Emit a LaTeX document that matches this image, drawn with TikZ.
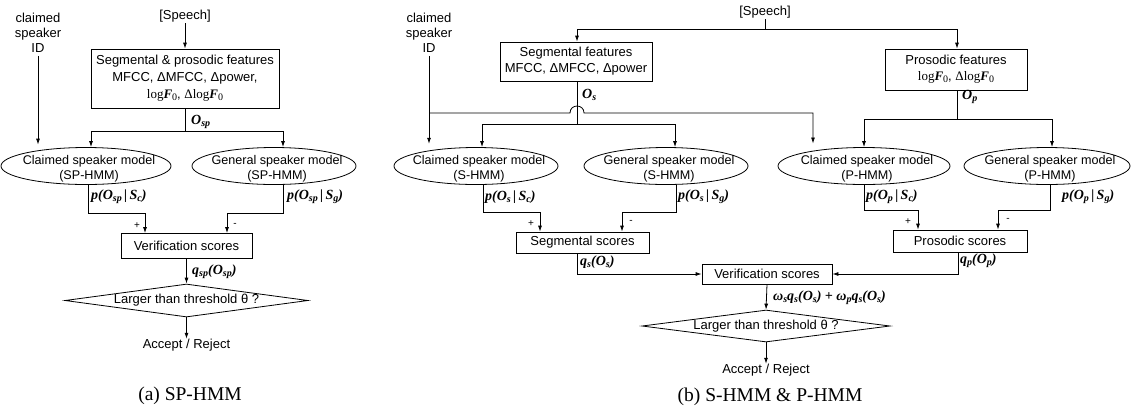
\documentclass[tikz,border=0pt]{standalone}
\usepackage{fontspec}
\setmainfont{Liberation Sans}
\newfontfamily\tms{Liberation Serif}
\usetikzlibrary{shapes.geometric,arrows.meta}
\newcommand{\sbs}[1]{\raisebox{-0.3ex}{\fontsize{10}{10}\selectfont #1}}
\newcommand{\lgF}{{\tms log\textbf{\textit{F}}\sbs{0}}}
\tikzset{
  every node/.style={font=\fontsize{13}{15}\selectfont, inner sep=0pt},
  ln/.style={line width=0.8pt},
  arr/.style={line width=0.8pt, -{Latex[length=6pt,width=4pt]}},
  box/.style={draw, line width=0.8pt, rectangle, align=center},
  ell/.style={draw, line width=0.8pt, ellipse, minimum height=37pt},
  dia/.style={draw, line width=0.8pt, diamond},
  lab/.style={font=\fontsize{14}{15}\selectfont\tms\bfseries\itshape, anchor=west},
  sgn/.style={font=\fontsize{10}{10}\selectfont},
  captxt/.style={font=\fontsize{19.5}{22}\selectfont\tms},
  txt/.style={align=center},
}
\newcommand{\ellnode}[5]{\node[ell, minimum width=#4pt, label={[align=center, font=\fontsize{12.6}{15}\selectfont, xshift=3pt, yshift=-2.5pt]center:#5}] (#1) at (#2,#3) {};}
\begin{document}
\begin{tikzpicture}[x=1pt, y=-1pt]
\useasboundingbox (0,0) rectangle (1137,416);
% ---------------- (a) ----------------
\node[txt] (idA) at (38,33) {claimed\\speaker\\ID};
\node (spA) at (185,16) {[Speech]};
\node[box, minimum width=188pt, minimum height=59pt, font=\fontsize{13}{17}\selectfont] (featA) at (185,78.5)
  {Segmental \& prosodic features\\MFCC, ΔMFCC, Δpower,\\\lgF, {\tms Δ}\lgF};
\coordinate (splA) at (185,131);
\ellnode{cA}{86}{166}{170}{Claimed speaker model\\(SP-HMM)}
\ellnode{gA}{274}{166}{164}{General speaker model\\(SP-HMM)}
\node[box, minimum width=131pt, minimum height=25pt] (vA) at (186.5,246) {Verification scores};
\node[dia, minimum width=243pt, minimum height=33pt, label={center:Larger than threshold θ ?}] (dA) at (186.5,300.5) {};
\node (arA) at (186.5,345) {Accept / Reject};
\node[captxt] (capA) at (190,396) {(a) SP-HMM};

\draw[arr, shorten <=3pt, shorten >=2.5pt] (idA.south) -- (idA.south |- cA.north);
\draw[arr, shorten <=1pt] (spA.south) -- (featA.north);
\draw[ln] (featA.south) -- (splA);
\draw[arr] (splA) -| ([xshift=5pt]cA.north);
\draw[arr] (splA) -| ([xshift=9pt]gA.north);
\node[lab] (oA) at (191,122) {O\sbs{sp}};
\node[lab] (pcA) at (91,197) {p(O\sbs{sp}\,|\,S\sbs{c})};
\node[lab] (pgA) at (287,197) {p(O\sbs{sp}\,|\,S\sbs{g})};
\draw[arr] ([xshift=2pt]cA.south) -- ++(0,28.5) -| ([xshift=-41.5pt]vA.north);
\draw[arr] ([xshift=9pt]gA.south) -- ++(0,28.5) -| ([xshift=40.5pt]vA.north);
\node[sgn] (plA) at (137,226) {+};
\node[sgn] (miA) at (235,225) {-};
\draw[arr] (vA.south) -- (dA.north);
\node[lab] (qA) at (192,272) {q\sbs{sp}(O\sbs{sp})};
\draw[arr] (dA.south) -- (arA.north);
% ---------------- (b) ----------------
\node[txt] (idB) at (429,33) {claimed\\speaker\\ID};
\node (spB) at (765,12) {[Speech]};
\coordinate (spJ) at (765,29);
\node[box, minimum width=152pt, minimum height=39pt, font=\fontsize{13}{16}\selectfont] (segB) at (576,61.5)
  {Segmental features\\MFCC, ΔMFCC, Δpower};
\node[box, minimum width=142pt, minimum height=41pt, font=\fontsize{13}{16}\selectfont] (proB) at (956,69.5)
  {Prosodic features\\\lgF, {\tms Δ}\lgF};
\coordinate (splS) at (577,124);
\coordinate (splP) at (957,119);
\coordinate (idJ) at (429,113);
\ellnode{cS}{476}{166}{164}{Claimed speaker model\\(S-HMM)}
\ellnode{gS}{666}{166}{164}{General speaker model\\(S-HMM)}
\ellnode{cP}{864}{166}{172}{Claimed speaker model\\(P-HMM)}
\ellnode{gP}{1047}{166}{166}{General speaker model\\(P-HMM)}
\node[box, minimum width=133pt, minimum height=21pt] (sSc) at (582.5,242.5) {Segmental scores};
\node[box, minimum width=134pt, minimum height=22pt] (pSc) at (960,241) {Prosodic scores};
\node[box, minimum width=130pt, minimum height=20pt] (vB) at (767,274) {Verification scores};
\node[dia, minimum width=248pt, minimum height=32pt, label={center:Larger than threshold θ ?}] (dB) at (766,326) {};
\node (arB) at (766,370) {Accept / Reject};
\node[captxt] (capB) at (770,397) {(b) S-HMM \& P-HMM};

\draw[ln, shorten <=1pt] (spB.south) -- (spJ);
\draw[arr] (spJ) -| ([xshift=1pt]segB.north);
\draw[arr] (spJ) -| ([xshift=1pt]proB.north);
\draw[ln] ([xshift=1pt]segB.south) -- (splS);
\draw[ln] ([xshift=1pt]proB.south) -- (splP);
\draw[arr] (splS) -| ([xshift=6pt]cS.north);
\draw[arr] (splS) -| ([xshift=9pt]gS.north);
\draw[arr] (splP) -| (cP.north);
\draw[arr] (splP) -| ([xshift=5pt]gP.north);
\draw[ln, shorten <=3pt] (idB.south) -- (idJ);
\draw[arr, shorten >=3.3pt] (idJ) -- (idJ |- cS.north);
\draw[arr, shorten >=3.6pt] (idJ) -- (570,113) .. controls (570,103.7) and (584,103.7) .. (584,113) -| ([xshift=-51pt]cP.north);
\node[lab] (oS) at (582,95) {O\sbs{s}};
\node[lab] (oP) at (962,97) {O\sbs{p}};
\node[lab] (pcS) at (485,197) {p(O\sbs{s}\,|\,S\sbs{c})};
\node[lab] (pgS) at (678,197) {p(O\sbs{s}\,|\,S\sbs{g})};
\node[lab] (pcP) at (866,197) {p(O\sbs{p}\,|\,S\sbs{c})};
\node[lab] (pgP) at (1062,197) {p(O\sbs{p}\,|\,S\sbs{g})};
\draw[arr] ([xshift=7pt]cS.south) -- ++(0,27.5) -| ([xshift=-42.5pt]sSc.north);
\draw[arr] ([xshift=10pt]gS.south) -- ++(0,27.5) -| ([xshift=39.5pt]sSc.north);
\draw[arr] (cP.south) -- ++(0,25.5) -| ([xshift=-42pt]pSc.north);
\draw[arr] ([xshift=3pt]gP.south) -- ++(0,25.5) -| ([xshift=38pt]pSc.north);
\node[sgn] (plS) at (531,224) {+};
\node[sgn] (miS) at (631,222) {-};
\node[sgn] (plP) at (908,222) {+};
\node[sgn] (miP) at (1008,220) {-};
\draw[arr] ([xshift=-5.5pt]sSc.south) |- (vB.west);
\draw[arr] ([xshift=-2pt]pSc.south) |- (vB.east);
\node[lab] (qS) at (580,262) {q\sbs{s}(O\sbs{s})};
\node[lab] (qP) at (960,261) {q\sbs{p}(O\sbs{p})};
\draw[arr] (vB.south) -- (dB.north);
\node[lab] (wB) at (773,298) {ω\sbs{s}q\sbs{s}(O\sbs{s}) + ω\sbs{p}q\sbs{s}(O\sbs{s})};
\draw[arr] (dB.south) -- (arB.north);
\end{tikzpicture}
\end{document}
